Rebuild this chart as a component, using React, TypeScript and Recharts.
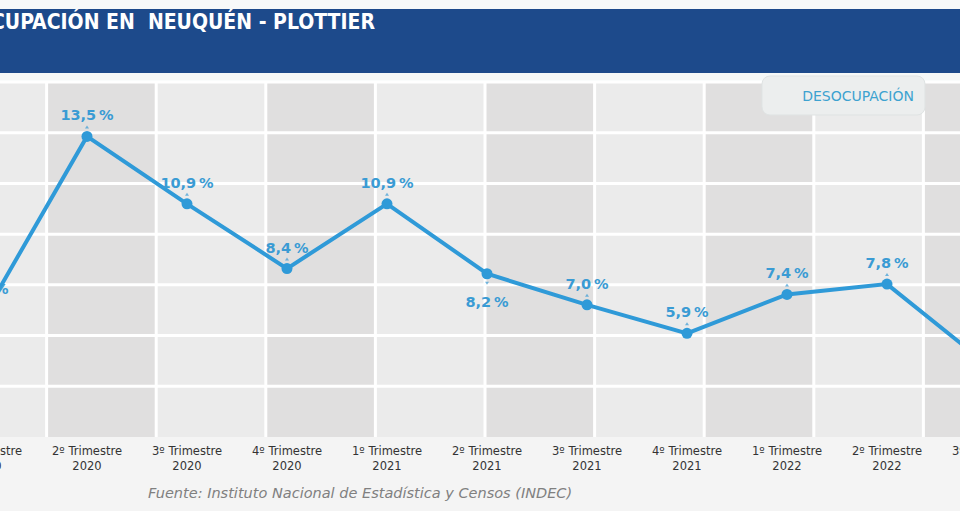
import React from 'react';
import { ComposedChart, Line, XAxis, YAxis, CartesianGrid, LabelList, ReferenceLine } from 'recharts';

const quarters = [
  '1º Trimestre', '2º Trimestre', '3º Trimestre', '4º Trimestre',
  '1º Trimestre', '2º Trimestre', '3º Trimestre', '4º Trimestre',
  '1º Trimestre', '2º Trimestre', '3º Trimestre',
];
const years = ['2020', '2020', '2020', '2020', '2021', '2021', '2021', '2021', '2022', '2022', '2022'];
const desocupacion = [6.8, 13.5, 10.9, 8.4, 10.9, 8.2, 7.0, 5.9, 7.4, 7.8, 4.7];
const labelBelow = [false, false, false, false, false, true, false, false, false, false, false];
const bandTicks = [0, 1, 2, 3, 4, 5, 6, 7, 8, 9, 10];
const rowTicks = [0, 1, 2, 3, 4, 5, 6, 7];
const rowLines = [1, 2, 3, 4, 5, 6, 7];

const data = quarters.map((q, i) => ({
  key: `${q} ${years[i]}`,
  value: desocupacion[i],
}));

const LINE = '#2f9ad8';
const LABEL = '#3a9bd4';

const fmt = (v: number) => v.toFixed(1).replace('.', ',') + '\u2009%';

const renderLabel = (props: any) => {
  const { x, y, value, index } = props;
  if (x == null || y == null) return null;
  const below = labelBelow[index];
  const ty = below ? y + 28 : y - 21;
  const my = below ? y + 8 : y - 8;
  const tri = below
    ? `M${x - 2},${my} L${x + 2},${my} L${x},${my + 3} Z`
    : `M${x - 2},${my} L${x + 2},${my} L${x},${my - 3} Z`;
  return (
    <g>
      <path d={tri} fill={LABEL} opacity={0.7} />
      <text
        x={x}
        y={ty}
        dy={5}
        textAnchor="middle"
        fill={LABEL}
        fontFamily="'DejaVu Sans', sans-serif"
        fontWeight="bold"
        fontSize={14.5}
      >
        {fmt(Number(value))}
      </text>
    </g>
  );
};

const CatTick = (props: any) => {
  const { x, y, payload } = props;
  const i = payload?.index ?? props.index ?? 0;
  return (
    <text
      x={x}
      y={y}
      textAnchor="middle"
      fontFamily="'DejaVu Sans', sans-serif"
      fontSize={11.5}
      fill="#333333"
    >
      <tspan x={x} dy={18}>{quarters[i]}</tspan>
      <tspan x={x} dy={15}>{years[i]}</tspan>
    </text>
  );
};

export default function App() {
  return (
    <div
      style={{
        position: 'fixed',
        left: 0,
        top: 0,
        width: 960,
        height: 511,
        overflow: 'hidden',
        background: '#f4f4f4',
      }}
    >
      <svg width={960} height={82} style={{ position: 'absolute', left: 0, top: 0 }}>
        <rect x={0} y={0} width={960} height={9} fill="#f7f9f9" />
        <rect x={0} y={9} width={960} height={64} fill="#1d4a8b" />
        <rect x={0} y={73} width={960} height={9} fill="#f5f8f8" />
        <text
          x={375}
          y={29}
          textAnchor="end"
          fill="#ffffff"
          fontFamily="'DejaVu Sans Condensed', 'DejaVu Sans', sans-serif"
          fontWeight="bold"
          fontSize={21}
          style={{ whiteSpace: 'pre', fontStretch: 'condensed' }}
        >
          {'DESOCUPACIÓN EN  NEUQUÉN - PLOTTIER'}
        </text>
      </svg>

      <div style={{ position: 'absolute', left: -100, top: 0 }}>
        <ComposedChart
          width={1143}
          height={511}
          data={data}
          margin={{ top: 82, right: 10, bottom: 34, left: 37 }}
        >
          <XAxis
            xAxisId="cat"
            dataKey="key"
            type="category"
            padding={{ left: 50, right: 46 }}
            height={40}
            axisLine={false}
            tickLine={false}
            tickSize={0}
            tickMargin={0}
            interval={0}
            tick={<CatTick />}
          />
          <XAxis xAxisId="band" type="number" domain={[0, 10]} ticks={bandTicks} height={0} hide />
          <YAxis yAxisId="row" type="number" domain={[0, 7]} ticks={rowTicks} width={0} hide />
          <YAxis yAxisId="v" type="number" domain={[1.9, 15.6]} width={0} hide />
          <CartesianGrid
            xAxisId="band"
            yAxisId="row"
            horizontal={false}
            stroke="#ffffff"
            strokeWidth={3}
            verticalFill={['#ebebeb', '#e0dfdf']}
            fillOpacity={1}
          />
          {rowLines.map((r) => (
            <ReferenceLine
              key={r}
              xAxisId="band"
              yAxisId="row"
              y={r}
              stroke="#ffffff"
              strokeWidth={3}
              ifOverflow="extendDomain"
              zIndex={-50}
            />
          ))}
          <Line
            xAxisId="cat"
            yAxisId="v"
            type="linear"
            dataKey="value"
            stroke={LINE}
            strokeWidth={4}
            dot={{ r: 5.5, fill: LINE, stroke: 'none' }}
            activeDot={false}
            isAnimationActive={false}
          >
            <LabelList dataKey="value" content={renderLabel} />
          </Line>
        </ComposedChart>
      </div>

      <svg width={960} height={511} style={{ position: 'absolute', left: 0, top: 0, pointerEvents: 'none' }}>
        <rect x={762} y={76} width={163} height={39} rx={8} ry={8} fill="#eceeee" stroke="#dfe3e3" />
        <text
          x={914}
          y={101}
          textAnchor="end"
          fill="#3da2d0"
          fontFamily="'DejaVu Sans', sans-serif"
          fontSize={14}
        >
          DESOCUPACIÓN
        </text>
        <text
          x={148}
          y={498}
          fill="#808080"
          fontFamily="'DejaVu Sans', sans-serif"
          fontStyle="italic"
          fontSize={14.5}
        >
          Fuente: Instituto Nacional de Estadística y Censos (INDEC)
        </text>
      </svg>
    </div>
  );
}
